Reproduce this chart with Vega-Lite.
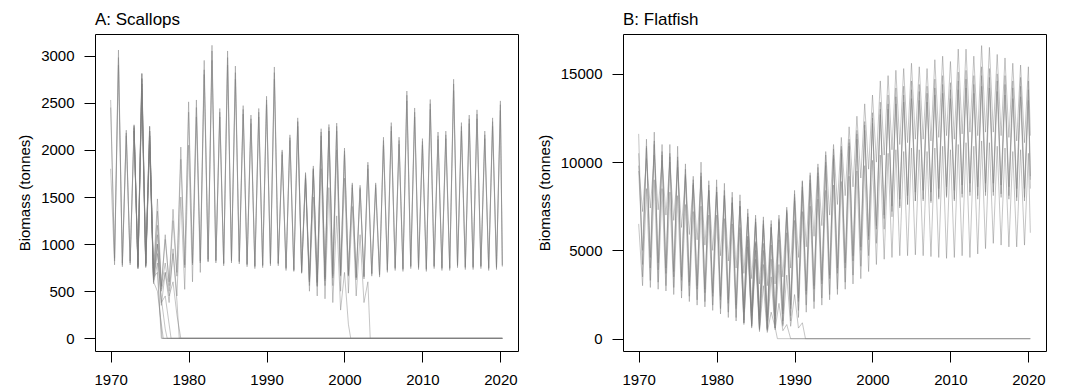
{
"$schema": "https://vega.github.io/schema/vega-lite/v6.json",
"padding": {"left": 17, "top": 10, "right": 5, "bottom": 5},
"background": "white",
"spacing": 105,
"bounds": "flush",
"config": {
 "font": "Liberation Sans",
 "view": {"stroke": "black", "strokeWidth": 1},
 "axis": {"domain": false, "grid": false, "tickColor": "black", "tickSize": 11, "tickWidth": 1, "labelFontSize": 15, "labelColor": "black", "labelPadding": 10, "titleFontSize": 15, "titleFontWeight": "normal", "titleColor": "black", "titlePadding": 8},
 "title": {"fontSize": 17, "fontWeight": "normal", "color": "black", "anchor": "start", "frame": "group", "baseline": "bottom", "offset": 5}
},
"datasets": {
"sc": [
{"r":"s1","t":1970,"v":2530},{"r":"s1","t":1970.5,"v":820},{"r":"s1","t":1971,"v":3060},{"r":"s1","t":1971.5,"v":780},{"r":"s1","t":1972,"v":2210},{"r":"s1","t":1972.5,"v":800},{"r":"s1","t":1973,"v":2260},{"r":"s1","t":1973.5,"v":760},{"r":"s1","t":1974,"v":2810},{"r":"s1","t":1974.5,"v":790},{"r":"s1","t":1975,"v":2250},{"r":"s1","t":1975.5,"v":680},{"r":"s1","t":1976,"v":1480},{"r":"s1","t":1976.5,"v":560},{"r":"s1","t":1977,"v":1050},{"r":"s1","t":1977.5,"v":600},{"r":"s1","t":1978,"v":1370},{"r":"s1","t":1978.5,"v":700},{"r":"s1","t":1979,"v":2030},{"r":"s1","t":1979.5,"v":780},{"r":"s1","t":1980,"v":2510},{"r":"s1","t":1980.5,"v":800},{"r":"s1","t":1981,"v":2530},{"r":"s1","t":1981.5,"v":820},{"r":"s1","t":1982,"v":2950},{"r":"s1","t":1982.5,"v":840},{"r":"s1","t":1983,"v":3110},{"r":"s1","t":1983.5,"v":830},{"r":"s1","t":1984,"v":2440},{"r":"s1","t":1984.5,"v":790},{"r":"s1","t":1985,"v":3050},{"r":"s1","t":1985.5,"v":830},{"r":"s1","t":1986,"v":2890},{"r":"s1","t":1986.5,"v":820},{"r":"s1","t":1987,"v":2470},{"r":"s1","t":1987.5,"v":780},{"r":"s1","t":1988,"v":2370},{"r":"s1","t":1988.5,"v":760},{"r":"s1","t":1989,"v":2440},{"r":"s1","t":1989.5,"v":770},{"r":"s1","t":1990,"v":2570},{"r":"s1","t":1990.5,"v":790},{"r":"s1","t":1991,"v":2880},{"r":"s1","t":1991.5,"v":800},{"r":"s1","t":1992,"v":2000},{"r":"s1","t":1992.5,"v":740},{"r":"s1","t":1993,"v":2160},{"r":"s1","t":1993.5,"v":730},{"r":"s1","t":1994,"v":2340},{"r":"s1","t":1994.5,"v":720},{"r":"s1","t":1995,"v":1760},{"r":"s1","t":1995.5,"v":620},{"r":"s1","t":1996,"v":1830},{"r":"s1","t":1996.5,"v":600},{"r":"s1","t":1997,"v":2225},{"r":"s1","t":1997.5,"v":650},{"r":"s1","t":1998,"v":2270},{"r":"s1","t":1998.5,"v":680},{"r":"s1","t":1999,"v":2285},{"r":"s1","t":1999.5,"v":690},{"r":"s1","t":2000,"v":2020},{"r":"s1","t":2000.5,"v":680},{"r":"s1","t":2001,"v":1650},{"r":"s1","t":2001.5,"v":640},{"r":"s1","t":2002,"v":1625},{"r":"s1","t":2002.5,"v":650},{"r":"s1","t":2003,"v":1870},{"r":"s1","t":2003.5,"v":680},{"r":"s1","t":2004,"v":1650},{"r":"s1","t":2004.5,"v":670},{"r":"s1","t":2005,"v":2135},{"r":"s1","t":2005.5,"v":720},{"r":"s1","t":2006,"v":2290},{"r":"s1","t":2006.5,"v":740},{"r":"s1","t":2007,"v":2135},{"r":"s1","t":2007.5,"v":730},{"r":"s1","t":2008,"v":2625},{"r":"s1","t":2008.5,"v":760},{"r":"s1","t":2009,"v":2445},{"r":"s1","t":2009.5,"v":750},{"r":"s1","t":2010,"v":2120},{"r":"s1","t":2010.5,"v":730},{"r":"s1","t":2011,"v":2535},{"r":"s1","t":2011.5,"v":760},{"r":"s1","t":2012,"v":2190},{"r":"s1","t":2012.5,"v":740},{"r":"s1","t":2013,"v":2200},{"r":"s1","t":2013.5,"v":740},{"r":"s1","t":2014,"v":2750},{"r":"s1","t":2014.5,"v":770},{"r":"s1","t":2015,"v":2290},{"r":"s1","t":2015.5,"v":750},{"r":"s1","t":2016,"v":2370},{"r":"s1","t":2016.5,"v":750},{"r":"s1","t":2017,"v":2425},{"r":"s1","t":2017.5,"v":760},{"r":"s1","t":2018,"v":2200},{"r":"s1","t":2018.5,"v":740},{"r":"s1","t":2019,"v":2340},{"r":"s1","t":2019.5,"v":750},{"r":"s1","t":2020,"v":2520},{"r":"s1","t":2020.25,"v":780},
{"r":"s2","t":1970,"v":1800},{"r":"s2","t":1970.5,"v":780},{"r":"s2","t":1971,"v":2900},{"r":"s2","t":1971.5,"v":760},{"r":"s2","t":1972,"v":2150},{"r":"s2","t":1972.5,"v":780},{"r":"s2","t":1973,"v":2200},{"r":"s2","t":1973.5,"v":740},{"r":"s2","t":1974,"v":2700},{"r":"s2","t":1974.5,"v":770},{"r":"s2","t":1975,"v":2150},{"r":"s2","t":1975.5,"v":640},{"r":"s2","t":1976,"v":1350},{"r":"s2","t":1976.5,"v":520},{"r":"s2","t":1977,"v":1100},{"r":"s2","t":1977.5,"v":560},{"r":"s2","t":1978,"v":1250},{"r":"s2","t":1978.5,"v":660},{"r":"s2","t":1979,"v":1900},{"r":"s2","t":1979.5,"v":750},{"r":"s2","t":1980,"v":2400},{"r":"s2","t":1980.5,"v":780},{"r":"s2","t":1981,"v":2450},{"r":"s2","t":1981.5,"v":800},{"r":"s2","t":1982,"v":2800},{"r":"s2","t":1982.5,"v":810},{"r":"s2","t":1983,"v":2950},{"r":"s2","t":1983.5,"v":800},{"r":"s2","t":1984,"v":2350},{"r":"s2","t":1984.5,"v":770},{"r":"s2","t":1985,"v":2900},{"r":"s2","t":1985.5,"v":800},{"r":"s2","t":1986,"v":2750},{"r":"s2","t":1986.5,"v":790},{"r":"s2","t":1987,"v":2380},{"r":"s2","t":1987.5,"v":760},{"r":"s2","t":1988,"v":2280},{"r":"s2","t":1988.5,"v":740},{"r":"s2","t":1989,"v":2350},{"r":"s2","t":1989.5,"v":750},{"r":"s2","t":1990,"v":2480},{"r":"s2","t":1990.5,"v":770},{"r":"s2","t":1991,"v":2750},{"r":"s2","t":1991.5,"v":770},{"r":"s2","t":1992,"v":1950},{"r":"s2","t":1992.5,"v":720},{"r":"s2","t":1993,"v":2100},{"r":"s2","t":1993.5,"v":710},{"r":"s2","t":1994,"v":2250},{"r":"s2","t":1994.5,"v":700},{"r":"s2","t":1995,"v":1700},{"r":"s2","t":1995.5,"v":600},{"r":"s2","t":1996,"v":1780},{"r":"s2","t":1996.5,"v":590},{"r":"s2","t":1997,"v":2150},{"r":"s2","t":1997.5,"v":630},{"r":"s2","t":1998,"v":2200},{"r":"s2","t":1998.5,"v":660},{"r":"s2","t":1999,"v":2200},{"r":"s2","t":1999.5,"v":670},{"r":"s2","t":2000,"v":1950},{"r":"s2","t":2000.5,"v":660},{"r":"s2","t":2001,"v":1600},{"r":"s2","t":2001.5,"v":620},{"r":"s2","t":2002,"v":1580},{"r":"s2","t":2002.5,"v":630},{"r":"s2","t":2003,"v":1800},{"r":"s2","t":2003.5,"v":660},{"r":"s2","t":2004,"v":1600},{"r":"s2","t":2004.5,"v":650},{"r":"s2","t":2005,"v":2050},{"r":"s2","t":2005.5,"v":700},{"r":"s2","t":2006,"v":2200},{"r":"s2","t":2006.5,"v":720},{"r":"s2","t":2007,"v":2060},{"r":"s2","t":2007.5,"v":710},{"r":"s2","t":2008,"v":2520},{"r":"s2","t":2008.5,"v":740},{"r":"s2","t":2009,"v":2350},{"r":"s2","t":2009.5,"v":730},{"r":"s2","t":2010,"v":2050},{"r":"s2","t":2010.5,"v":710},{"r":"s2","t":2011,"v":2430},{"r":"s2","t":2011.5,"v":740},{"r":"s2","t":2012,"v":2110},{"r":"s2","t":2012.5,"v":720},{"r":"s2","t":2013,"v":2120},{"r":"s2","t":2013.5,"v":720},{"r":"s2","t":2014,"v":2630},{"r":"s2","t":2014.5,"v":750},{"r":"s2","t":2015,"v":2200},{"r":"s2","t":2015.5,"v":730},{"r":"s2","t":2016,"v":2280},{"r":"s2","t":2016.5,"v":730},{"r":"s2","t":2017,"v":2330},{"r":"s2","t":2017.5,"v":740},{"r":"s2","t":2018,"v":2120},{"r":"s2","t":2018.5,"v":720},{"r":"s2","t":2019,"v":2250},{"r":"s2","t":2019.5,"v":730},{"r":"s2","t":2020,"v":2420},{"r":"s2","t":2020.25,"v":760},
{"r":"s3","t":1970,"v":2450},{"r":"s3","t":1970.5,"v":850},{"r":"s3","t":1971,"v":2980},{"r":"s3","t":1971.5,"v":800},{"r":"s3","t":1972,"v":2180},{"r":"s3","t":1972.5,"v":820},{"r":"s3","t":1973,"v":2230},{"r":"s3","t":1973.5,"v":780},{"r":"s3","t":1974,"v":2760},{"r":"s3","t":1974.5,"v":800},{"r":"s3","t":1975,"v":2200},{"r":"s3","t":1975.5,"v":600},{"r":"s3","t":1976,"v":1000},{"r":"s3","t":1976.5,"v":350},{"r":"s3","t":1977,"v":700},{"r":"s3","t":1977.5,"v":380},{"r":"s3","t":1978,"v":950},{"r":"s3","t":1978.5,"v":450},{"r":"s3","t":1979,"v":1500},{"r":"s3","t":1979.5,"v":520},{"r":"s3","t":1980,"v":2050},{"r":"s3","t":1980.5,"v":600},{"r":"s3","t":1981,"v":2350},{"r":"s3","t":1981.5,"v":700},{"r":"s3","t":1982,"v":2850},{"r":"s3","t":1982.5,"v":820},{"r":"s3","t":1983,"v":3050},{"r":"s3","t":1983.5,"v":820},{"r":"s3","t":1984,"v":2400},{"r":"s3","t":1984.5,"v":800},{"r":"s3","t":1985,"v":2980},{"r":"s3","t":1985.5,"v":820},{"r":"s3","t":1986,"v":2820},{"r":"s3","t":1986.5,"v":810},{"r":"s3","t":1987,"v":2430},{"r":"s3","t":1987.5,"v":790},{"r":"s3","t":1988,"v":2330},{"r":"s3","t":1988.5,"v":770},{"r":"s3","t":1989,"v":2400},{"r":"s3","t":1989.5,"v":780},{"r":"s3","t":1990,"v":2530},{"r":"s3","t":1990.5,"v":800},{"r":"s3","t":1991,"v":2820},{"r":"s3","t":1991.5,"v":790},{"r":"s3","t":1992,"v":1980},{"r":"s3","t":1992.5,"v":750},{"r":"s3","t":1993,"v":2130},{"r":"s3","t":1993.5,"v":720},{"r":"s3","t":1994,"v":2300},{"r":"s3","t":1994.5,"v":690},{"r":"s3","t":1995,"v":1730},{"r":"s3","t":1995.5,"v":560},{"r":"s3","t":1996,"v":1800},{"r":"s3","t":1996.5,"v":560},{"r":"s3","t":1997,"v":2190},{"r":"s3","t":1997.5,"v":610},{"r":"s3","t":1998,"v":2240},{"r":"s3","t":1998.5,"v":640},{"r":"s3","t":1999,"v":2250},{"r":"s3","t":1999.5,"v":660},{"r":"s3","t":2000,"v":1990},{"r":"s3","t":2000.5,"v":670},{"r":"s3","t":2001,"v":1630},{"r":"s3","t":2001.5,"v":650},{"r":"s3","t":2002,"v":1600},{"r":"s3","t":2002.5,"v":660},{"r":"s3","t":2003,"v":1840},{"r":"s3","t":2003.5,"v":690},{"r":"s3","t":2004,"v":1630},{"r":"s3","t":2004.5,"v":680},{"r":"s3","t":2005,"v":2100},{"r":"s3","t":2005.5,"v":730},{"r":"s3","t":2006,"v":2250},{"r":"s3","t":2006.5,"v":750},{"r":"s3","t":2007,"v":2100},{"r":"s3","t":2007.5,"v":740},{"r":"s3","t":2008,"v":2580},{"r":"s3","t":2008.5,"v":770},{"r":"s3","t":2009,"v":2400},{"r":"s3","t":2009.5,"v":760},{"r":"s3","t":2010,"v":2090},{"r":"s3","t":2010.5,"v":740},{"r":"s3","t":2011,"v":2490},{"r":"s3","t":2011.5,"v":770},{"r":"s3","t":2012,"v":2150},{"r":"s3","t":2012.5,"v":750},{"r":"s3","t":2013,"v":2160},{"r":"s3","t":2013.5,"v":750},{"r":"s3","t":2014,"v":2700},{"r":"s3","t":2014.5,"v":780},{"r":"s3","t":2015,"v":2250},{"r":"s3","t":2015.5,"v":760},{"r":"s3","t":2016,"v":2330},{"r":"s3","t":2016.5,"v":760},{"r":"s3","t":2017,"v":2380},{"r":"s3","t":2017.5,"v":770},{"r":"s3","t":2018,"v":2160},{"r":"s3","t":2018.5,"v":750},{"r":"s3","t":2019,"v":2300},{"r":"s3","t":2019.5,"v":760},{"r":"s3","t":2020,"v":2480},{"r":"s3","t":2020.25,"v":770},
{"r":"c1","t":1973,"v":2250},{"r":"c1","t":1973.5,"v":760},{"r":"c1","t":1974,"v":2700},{"r":"c1","t":1974.5,"v":780},{"r":"c1","t":1975,"v":2150},{"r":"c1","t":1975.5,"v":650},{"r":"c1","t":1976,"v":700},{"r":"c1","t":1976.5,"v":0},{"r":"c1","t":2020.25,"v":0},
{"r":"c2","t":1973,"v":2260},{"r":"c2","t":1973.5,"v":770},{"r":"c2","t":1974,"v":2810},{"r":"c2","t":1974.5,"v":800},{"r":"c2","t":1975,"v":2250},{"r":"c2","t":1975.5,"v":600},{"r":"c2","t":1976,"v":500},{"r":"c2","t":1976.4,"v":220},{"r":"c2","t":1976.75,"v":0},{"r":"c2","t":2020.25,"v":0},
{"r":"c3","t":1973,"v":2240},{"r":"c3","t":1973.5,"v":750},{"r":"c3","t":1974,"v":2600},{"r":"c3","t":1974.5,"v":760},{"r":"c3","t":1975,"v":2050},{"r":"c3","t":1975.5,"v":620},{"r":"c3","t":1976,"v":900},{"r":"c3","t":1976.5,"v":420},{"r":"c3","t":1977,"v":100},{"r":"c3","t":1977.25,"v":0},{"r":"c3","t":2020.25,"v":0},
{"r":"c4","t":1973,"v":2270},{"r":"c4","t":1973.5,"v":780},{"r":"c4","t":1974,"v":2750},{"r":"c4","t":1974.5,"v":770},{"r":"c4","t":1975,"v":2200},{"r":"c4","t":1975.5,"v":640},{"r":"c4","t":1976,"v":1000},{"r":"c4","t":1976.5,"v":380},{"r":"c4","t":1977,"v":450},{"r":"c4","t":1977.5,"v":150},{"r":"c4","t":1977.75,"v":0},{"r":"c4","t":2020.25,"v":0},
{"r":"c5","t":1973,"v":2200},{"r":"c5","t":1973.5,"v":740},{"r":"c5","t":1974,"v":2650},{"r":"c5","t":1974.5,"v":750},{"r":"c5","t":1975,"v":2100},{"r":"c5","t":1975.5,"v":580},{"r":"c5","t":1976,"v":800},{"r":"c5","t":1976.3,"v":300},{"r":"c5","t":1976.6,"v":0},{"r":"c5","t":2020.25,"v":0},
{"r":"c6","t":1975,"v":2150},{"r":"c6","t":1975.5,"v":620},{"r":"c6","t":1976,"v":1100},{"r":"c6","t":1976.5,"v":500},{"r":"c6","t":1977,"v":700},{"r":"c6","t":1977.5,"v":450},{"r":"c6","t":1978,"v":600},{"r":"c6","t":1978.5,"v":250},{"r":"c6","t":1979,"v":0},{"r":"c6","t":2020.25,"v":0},
{"r":"c7","t":1975,"v":2200},{"r":"c7","t":1975.5,"v":650},{"r":"c7","t":1976,"v":1200},{"r":"c7","t":1976.5,"v":550},{"r":"c7","t":1977,"v":800},{"r":"c7","t":1977.5,"v":500},{"r":"c7","t":1978,"v":900},{"r":"c7","t":1978.5,"v":400},{"r":"c7","t":1978.8,"v":0},{"r":"c7","t":2020.25,"v":0},
{"r":"d1","t":1994,"v":2300},{"r":"d1","t":1994.5,"v":700},{"r":"d1","t":1995,"v":1700},{"r":"d1","t":1995.5,"v":500},{"r":"d1","t":1996,"v":1500},{"r":"d1","t":1996.5,"v":450},{"r":"d1","t":1997,"v":1800},{"r":"d1","t":1997.5,"v":420},{"r":"d1","t":1998,"v":1600},{"r":"d1","t":1998.5,"v":380},{"r":"d1","t":1999,"v":1300},{"r":"d1","t":1999.5,"v":300},{"r":"d1","t":2000,"v":700},{"r":"d1","t":2000.5,"v":150},{"r":"d1","t":2000.8,"v":0},{"r":"d1","t":2020.25,"v":0},
{"r":"d2","t":1995,"v":1750},{"r":"d2","t":1995.5,"v":600},{"r":"d2","t":1996,"v":1800},{"r":"d2","t":1996.5,"v":550},{"r":"d2","t":1997,"v":2100},{"r":"d2","t":1997.5,"v":560},{"r":"d2","t":1998,"v":2200},{"r":"d2","t":1998.5,"v":560},{"r":"d2","t":1999,"v":2000},{"r":"d2","t":1999.5,"v":500},{"r":"d2","t":2000,"v":1700},{"r":"d2","t":2000.5,"v":480},{"r":"d2","t":2001,"v":1400},{"r":"d2","t":2001.5,"v":450},{"r":"d2","t":2002,"v":1100},{"r":"d2","t":2002.5,"v":380},{"r":"d2","t":2003,"v":600},{"r":"d2","t":2003.3,"v":0},{"r":"d2","t":2020.25,"v":0}
],
"ff": [
{"r":"f1","t":1970,"v":11600},{"r":"f1","t":1970.5,"v":3500},{"r":"f1","t":1971,"v":11300},{"r":"f1","t":1971.5,"v":3300},{"r":"f1","t":1972,"v":11700},{"r":"f1","t":1972.5,"v":3200},{"r":"f1","t":1973,"v":11000},{"r":"f1","t":1973.5,"v":3000},{"r":"f1","t":1974,"v":11000},{"r":"f1","t":1974.5,"v":2900},{"r":"f1","t":1975,"v":10900},{"r":"f1","t":1975.5,"v":2700},{"r":"f1","t":1976,"v":9900},{"r":"f1","t":1976.5,"v":2400},{"r":"f1","t":1977,"v":9200},{"r":"f1","t":1977.5,"v":2200},{"r":"f1","t":1978,"v":10000},{"r":"f1","t":1978.5,"v":2100},{"r":"f1","t":1979,"v":8950},{"r":"f1","t":1979.5,"v":1900},{"r":"f1","t":1980,"v":9000},{"r":"f1","t":1980.5,"v":1700},{"r":"f1","t":1981,"v":8800},{"r":"f1","t":1981.5,"v":1500},{"r":"f1","t":1982,"v":8300},{"r":"f1","t":1982.5,"v":1200},{"r":"f1","t":1983,"v":8150},{"r":"f1","t":1983.5,"v":1050},{"r":"f1","t":1984,"v":7350},{"r":"f1","t":1984.5,"v":850},{"r":"f1","t":1985,"v":7000},{"r":"f1","t":1985.5,"v":650},{"r":"f1","t":1986,"v":6900},{"r":"f1","t":1986.5,"v":600},{"r":"f1","t":1987,"v":6700},{"r":"f1","t":1987.5,"v":800},{"r":"f1","t":1988,"v":7000},{"r":"f1","t":1988.5,"v":1000},{"r":"f1","t":1989,"v":7450},{"r":"f1","t":1989.5,"v":1300},{"r":"f1","t":1990,"v":8400},{"r":"f1","t":1990.5,"v":1600},{"r":"f1","t":1991,"v":8950},{"r":"f1","t":1991.5,"v":1900},{"r":"f1","t":1992,"v":9250},{"r":"f1","t":1992.5,"v":2100},{"r":"f1","t":1993,"v":9700},{"r":"f1","t":1993.5,"v":2300},{"r":"f1","t":1994,"v":10400},{"r":"f1","t":1994.5,"v":2500},{"r":"f1","t":1995,"v":10750},{"r":"f1","t":1995.5,"v":2800},{"r":"f1","t":1996,"v":10900},{"r":"f1","t":1996.5,"v":3200},{"r":"f1","t":1997,"v":11300},{"r":"f1","t":1997.5,"v":3600},{"r":"f1","t":1998,"v":11800},{"r":"f1","t":1998.5,"v":4100},{"r":"f1","t":1999,"v":12300},{"r":"f1","t":1999.5,"v":4700},{"r":"f1","t":2000,"v":12800},{"r":"f1","t":2000.5,"v":5400},{"r":"f1","t":2001,"v":13400},{"r":"f1","t":2001.5,"v":6200},{"r":"f1","t":2002,"v":13800},{"r":"f1","t":2002.5,"v":6900},{"r":"f1","t":2003,"v":14200},{"r":"f1","t":2003.5,"v":7400},{"r":"f1","t":2004,"v":14300},{"r":"f1","t":2004.5,"v":7600},{"r":"f1","t":2005,"v":14600},{"r":"f1","t":2005.5,"v":7800},{"r":"f1","t":2006,"v":14400},{"r":"f1","t":2006.5,"v":7900},{"r":"f1","t":2007,"v":14300},{"r":"f1","t":2007.5,"v":7800},{"r":"f1","t":2008,"v":14700},{"r":"f1","t":2008.5,"v":8000},{"r":"f1","t":2009,"v":14900},{"r":"f1","t":2009.5,"v":8100},{"r":"f1","t":2010,"v":14500},{"r":"f1","t":2010.5,"v":7900},{"r":"f1","t":2011,"v":15100},{"r":"f1","t":2011.5,"v":8200},{"r":"f1","t":2012,"v":15200},{"r":"f1","t":2012.5,"v":8300},{"r":"f1","t":2013,"v":14900},{"r":"f1","t":2013.5,"v":8100},{"r":"f1","t":2014,"v":15400},{"r":"f1","t":2014.5,"v":8300},{"r":"f1","t":2015,"v":15300},{"r":"f1","t":2015.5,"v":8300},{"r":"f1","t":2016,"v":15000},{"r":"f1","t":2016.5,"v":8200},{"r":"f1","t":2017,"v":14900},{"r":"f1","t":2017.5,"v":8100},{"r":"f1","t":2018,"v":14600},{"r":"f1","t":2018.5,"v":8000},{"r":"f1","t":2019,"v":14800},{"r":"f1","t":2019.5,"v":8000},{"r":"f1","t":2020,"v":14600},{"r":"f1","t":2020.25,"v":9000},
{"r":"f2","t":1970,"v":9500},{"r":"f2","t":1970.5,"v":5000},{"r":"f2","t":1971,"v":10800},{"r":"f2","t":1971.5,"v":4600},{"r":"f2","t":1972,"v":11200},{"r":"f2","t":1972.5,"v":4300},{"r":"f2","t":1973,"v":10600},{"r":"f2","t":1973.5,"v":4000},{"r":"f2","t":1974,"v":10500},{"r":"f2","t":1974.5,"v":3800},{"r":"f2","t":1975,"v":10300},{"r":"f2","t":1975.5,"v":3500},{"r":"f2","t":1976,"v":9600},{"r":"f2","t":1976.5,"v":3200},{"r":"f2","t":1977,"v":9000},{"r":"f2","t":1977.5,"v":3000},{"r":"f2","t":1978,"v":9400},{"r":"f2","t":1978.5,"v":2800},{"r":"f2","t":1979,"v":8700},{"r":"f2","t":1979.5,"v":2600},{"r":"f2","t":1980,"v":8600},{"r":"f2","t":1980.5,"v":2400},{"r":"f2","t":1981,"v":8400},{"r":"f2","t":1981.5,"v":2200},{"r":"f2","t":1982,"v":8000},{"r":"f2","t":1982.5,"v":1900},{"r":"f2","t":1983,"v":7800},{"r":"f2","t":1983.5,"v":1700},{"r":"f2","t":1984,"v":7100},{"r":"f2","t":1984.5,"v":1500},{"r":"f2","t":1985,"v":6800},{"r":"f2","t":1985.5,"v":1300},{"r":"f2","t":1986,"v":6700},{"r":"f2","t":1986.5,"v":1200},{"r":"f2","t":1987,"v":6500},{"r":"f2","t":1987.5,"v":1300},{"r":"f2","t":1988,"v":6800},{"r":"f2","t":1988.5,"v":1600},{"r":"f2","t":1989,"v":7200},{"r":"f2","t":1989.5,"v":1900},{"r":"f2","t":1990,"v":8000},{"r":"f2","t":1990.5,"v":2300},{"r":"f2","t":1991,"v":8600},{"r":"f2","t":1991.5,"v":2700},{"r":"f2","t":1992,"v":9000},{"r":"f2","t":1992.5,"v":3000},{"r":"f2","t":1993,"v":9400},{"r":"f2","t":1993.5,"v":3300},{"r":"f2","t":1994,"v":10000},{"r":"f2","t":1994.5,"v":3600},{"r":"f2","t":1995,"v":10400},{"r":"f2","t":1995.5,"v":4000},{"r":"f2","t":1996,"v":10700},{"r":"f2","t":1996.5,"v":4300},{"r":"f2","t":1997,"v":11100},{"r":"f2","t":1997.5,"v":4700},{"r":"f2","t":1998,"v":11600},{"r":"f2","t":1998.5,"v":5200},{"r":"f2","t":1999,"v":12100},{"r":"f2","t":1999.5,"v":5800},{"r":"f2","t":2000,"v":12500},{"r":"f2","t":2000.5,"v":6400},{"r":"f2","t":2001,"v":13000},{"r":"f2","t":2001.5,"v":7000},{"r":"f2","t":2002,"v":13300},{"r":"f2","t":2002.5,"v":7500},{"r":"f2","t":2003,"v":13700},{"r":"f2","t":2003.5,"v":7900},{"r":"f2","t":2004,"v":13800},{"r":"f2","t":2004.5,"v":8100},{"r":"f2","t":2005,"v":14100},{"r":"f2","t":2005.5,"v":8300},{"r":"f2","t":2006,"v":14000},{"r":"f2","t":2006.5,"v":8400},{"r":"f2","t":2007,"v":13900},{"r":"f2","t":2007.5,"v":8300},{"r":"f2","t":2008,"v":14200},{"r":"f2","t":2008.5,"v":8500},{"r":"f2","t":2009,"v":14400},{"r":"f2","t":2009.5,"v":8600},{"r":"f2","t":2010,"v":14100},{"r":"f2","t":2010.5,"v":8400},{"r":"f2","t":2011,"v":14600},{"r":"f2","t":2011.5,"v":8700},{"r":"f2","t":2012,"v":14700},{"r":"f2","t":2012.5,"v":8800},{"r":"f2","t":2013,"v":14400},{"r":"f2","t":2013.5,"v":8600},{"r":"f2","t":2014,"v":14900},{"r":"f2","t":2014.5,"v":8800},{"r":"f2","t":2015,"v":14800},{"r":"f2","t":2015.5,"v":8800},{"r":"f2","t":2016,"v":14600},{"r":"f2","t":2016.5,"v":8700},{"r":"f2","t":2017,"v":14400},{"r":"f2","t":2017.5,"v":8600},{"r":"f2","t":2018,"v":14200},{"r":"f2","t":2018.5,"v":8500},{"r":"f2","t":2019,"v":14300},{"r":"f2","t":2019.5,"v":8500},{"r":"f2","t":2020,"v":14100},{"r":"f2","t":2020.25,"v":9200},
{"r":"f3","t":1970,"v":9800},{"r":"f3","t":1970.5,"v":7200},{"r":"f3","t":1971,"v":10200},{"r":"f3","t":1971.5,"v":7400},{"r":"f3","t":1972,"v":10400},{"r":"f3","t":1972.5,"v":7300},{"r":"f3","t":1973,"v":10100},{"r":"f3","t":1973.5,"v":7000},{"r":"f3","t":1974,"v":10000},{"r":"f3","t":1974.5,"v":6700},{"r":"f3","t":1975,"v":9700},{"r":"f3","t":1975.5,"v":6300},{"r":"f3","t":1976,"v":9200},{"r":"f3","t":1976.5,"v":5900},{"r":"f3","t":1977,"v":8800},{"r":"f3","t":1977.5,"v":5600},{"r":"f3","t":1978,"v":9000},{"r":"f3","t":1978.5,"v":5300},{"r":"f3","t":1979,"v":8400},{"r":"f3","t":1979.5,"v":5000},{"r":"f3","t":1980,"v":8300},{"r":"f3","t":1980.5,"v":4700},{"r":"f3","t":1981,"v":8100},{"r":"f3","t":1981.5,"v":4400},{"r":"f3","t":1982,"v":7700},{"r":"f3","t":1982.5,"v":4000},{"r":"f3","t":1983,"v":7500},{"r":"f3","t":1983.5,"v":3700},{"r":"f3","t":1984,"v":6900},{"r":"f3","t":1984.5,"v":3400},{"r":"f3","t":1985,"v":6600},{"r":"f3","t":1985.5,"v":3100},{"r":"f3","t":1986,"v":6400},{"r":"f3","t":1986.5,"v":3000},{"r":"f3","t":1987,"v":6300},{"r":"f3","t":1987.5,"v":3100},{"r":"f3","t":1988,"v":6700},{"r":"f3","t":1988.5,"v":3500},{"r":"f3","t":1989,"v":7300},{"r":"f3","t":1989.5,"v":4000},{"r":"f3","t":1990,"v":8200},{"r":"f3","t":1990.5,"v":4600},{"r":"f3","t":1991,"v":8900},{"r":"f3","t":1991.5,"v":5200},{"r":"f3","t":1992,"v":9400},{"r":"f3","t":1992.5,"v":5800},{"r":"f3","t":1993,"v":9900},{"r":"f3","t":1993.5,"v":6400},{"r":"f3","t":1994,"v":10600},{"r":"f3","t":1994.5,"v":7000},{"r":"f3","t":1995,"v":11000},{"r":"f3","t":1995.5,"v":7600},{"r":"f3","t":1996,"v":11400},{"r":"f3","t":1996.5,"v":8100},{"r":"f3","t":1997,"v":12000},{"r":"f3","t":1997.5,"v":8600},{"r":"f3","t":1998,"v":12600},{"r":"f3","t":1998.5,"v":9100},{"r":"f3","t":1999,"v":13300},{"r":"f3","t":1999.5,"v":9600},{"r":"f3","t":2000,"v":13800},{"r":"f3","t":2000.5,"v":10000},{"r":"f3","t":2001,"v":14600},{"r":"f3","t":2001.5,"v":10400},{"r":"f3","t":2002,"v":14900},{"r":"f3","t":2002.5,"v":10700},{"r":"f3","t":2003,"v":15200},{"r":"f3","t":2003.5,"v":11000},{"r":"f3","t":2004,"v":15300},{"r":"f3","t":2004.5,"v":11100},{"r":"f3","t":2005,"v":15600},{"r":"f3","t":2005.5,"v":11300},{"r":"f3","t":2006,"v":15400},{"r":"f3","t":2006.5,"v":11300},{"r":"f3","t":2007,"v":15300},{"r":"f3","t":2007.5,"v":11200},{"r":"f3","t":2008,"v":15800},{"r":"f3","t":2008.5,"v":11400},{"r":"f3","t":2009,"v":16000},{"r":"f3","t":2009.5,"v":11500},{"r":"f3","t":2010,"v":15700},{"r":"f3","t":2010.5,"v":11300},{"r":"f3","t":2011,"v":16400},{"r":"f3","t":2011.5,"v":11600},{"r":"f3","t":2012,"v":16400},{"r":"f3","t":2012.5,"v":11700},{"r":"f3","t":2013,"v":16000},{"r":"f3","t":2013.5,"v":11500},{"r":"f3","t":2014,"v":16600},{"r":"f3","t":2014.5,"v":11700},{"r":"f3","t":2015,"v":16500},{"r":"f3","t":2015.5,"v":11700},{"r":"f3","t":2016,"v":16100},{"r":"f3","t":2016.5,"v":11500},{"r":"f3","t":2017,"v":15900},{"r":"f3","t":2017.5,"v":11400},{"r":"f3","t":2018,"v":15600},{"r":"f3","t":2018.5,"v":11200},{"r":"f3","t":2019,"v":15500},{"r":"f3","t":2019.5,"v":11100},{"r":"f3","t":2020,"v":15400},{"r":"f3","t":2020.25,"v":11500},
{"r":"f4","t":1970,"v":6500},{"r":"f4","t":1970.5,"v":3000},{"r":"f4","t":1971,"v":8500},{"r":"f4","t":1971.5,"v":2900},{"r":"f4","t":1972,"v":9000},{"r":"f4","t":1972.5,"v":2800},{"r":"f4","t":1973,"v":8500},{"r":"f4","t":1973.5,"v":2700},{"r":"f4","t":1974,"v":8300},{"r":"f4","t":1974.5,"v":2500},{"r":"f4","t":1975,"v":8100},{"r":"f4","t":1975.5,"v":2300},{"r":"f4","t":1976,"v":7600},{"r":"f4","t":1976.5,"v":2100},{"r":"f4","t":1977,"v":7200},{"r":"f4","t":1977.5,"v":1900},{"r":"f4","t":1978,"v":7500},{"r":"f4","t":1978.5,"v":1800},{"r":"f4","t":1979,"v":7000},{"r":"f4","t":1979.5,"v":1600},{"r":"f4","t":1980,"v":7000},{"r":"f4","t":1980.5,"v":1400},{"r":"f4","t":1981,"v":6800},{"r":"f4","t":1981.5,"v":1200},{"r":"f4","t":1982,"v":6500},{"r":"f4","t":1982.5,"v":1000},{"r":"f4","t":1983,"v":6300},{"r":"f4","t":1983.5,"v":900},{"r":"f4","t":1984,"v":5800},{"r":"f4","t":1984.5,"v":700},{"r":"f4","t":1985,"v":5500},{"r":"f4","t":1985.5,"v":550},{"r":"f4","t":1986,"v":5400},{"r":"f4","t":1986.5,"v":500},{"r":"f4","t":1987,"v":5300},{"r":"f4","t":1987.5,"v":600},{"r":"f4","t":1988,"v":5600},{"r":"f4","t":1988.5,"v":800},{"r":"f4","t":1989,"v":6000},{"r":"f4","t":1989.5,"v":1000},{"r":"f4","t":1990,"v":6700},{"r":"f4","t":1990.5,"v":1200},{"r":"f4","t":1991,"v":7200},{"r":"f4","t":1991.5,"v":1500},{"r":"f4","t":1992,"v":7500},{"r":"f4","t":1992.5,"v":1700},{"r":"f4","t":1993,"v":7900},{"r":"f4","t":1993.5,"v":1900},{"r":"f4","t":1994,"v":8400},{"r":"f4","t":1994.5,"v":2200},{"r":"f4","t":1995,"v":8700},{"r":"f4","t":1995.5,"v":2500},{"r":"f4","t":1996,"v":8900},{"r":"f4","t":1996.5,"v":2800},{"r":"f4","t":1997,"v":9200},{"r":"f4","t":1997.5,"v":3100},{"r":"f4","t":1998,"v":9500},{"r":"f4","t":1998.5,"v":3400},{"r":"f4","t":1999,"v":9800},{"r":"f4","t":1999.5,"v":3800},{"r":"f4","t":2000,"v":10100},{"r":"f4","t":2000.5,"v":4200},{"r":"f4","t":2001,"v":10400},{"r":"f4","t":2001.5,"v":4500},{"r":"f4","t":2002,"v":10500},{"r":"f4","t":2002.5,"v":4600},{"r":"f4","t":2003,"v":10700},{"r":"f4","t":2003.5,"v":4700},{"r":"f4","t":2004,"v":10600},{"r":"f4","t":2004.5,"v":4700},{"r":"f4","t":2005,"v":10800},{"r":"f4","t":2005.5,"v":4750},{"r":"f4","t":2006,"v":10700},{"r":"f4","t":2006.5,"v":4700},{"r":"f4","t":2007,"v":10600},{"r":"f4","t":2007.5,"v":4650},{"r":"f4","t":2008,"v":10800},{"r":"f4","t":2008.5,"v":4600},{"r":"f4","t":2009,"v":10900},{"r":"f4","t":2009.5,"v":4550},{"r":"f4","t":2010,"v":10700},{"r":"f4","t":2010.5,"v":4600},{"r":"f4","t":2011,"v":11000},{"r":"f4","t":2011.5,"v":4700},{"r":"f4","t":2012,"v":11100},{"r":"f4","t":2012.5,"v":4600},{"r":"f4","t":2013,"v":10900},{"r":"f4","t":2013.5,"v":4800},{"r":"f4","t":2014,"v":11200},{"r":"f4","t":2014.5,"v":5100},{"r":"f4","t":2015,"v":11100},{"r":"f4","t":2015.5,"v":5400},{"r":"f4","t":2016,"v":10900},{"r":"f4","t":2016.5,"v":5300},{"r":"f4","t":2017,"v":10800},{"r":"f4","t":2017.5,"v":5200},{"r":"f4","t":2018,"v":10600},{"r":"f4","t":2018.5,"v":5200},{"r":"f4","t":2019,"v":10700},{"r":"f4","t":2019.5,"v":5300},{"r":"f4","t":2020,"v":10500},{"r":"f4","t":2020.25,"v":6000},
{"r":"f5","t":1970,"v":10500},{"r":"f5","t":1970.5,"v":4200},{"r":"f5","t":1971,"v":10900},{"r":"f5","t":1971.5,"v":4000},{"r":"f5","t":1972,"v":11000},{"r":"f5","t":1972.5,"v":3900},{"r":"f5","t":1973,"v":10400},{"r":"f5","t":1973.5,"v":3700},{"r":"f5","t":1974,"v":10300},{"r":"f5","t":1974.5,"v":3500},{"r":"f5","t":1975,"v":10100},{"r":"f5","t":1975.5,"v":3300},{"r":"f5","t":1976,"v":9300},{"r":"f5","t":1976.5,"v":3000},{"r":"f5","t":1977,"v":8700},{"r":"f5","t":1977.5,"v":2800},{"r":"f5","t":1978,"v":9200},{"r":"f5","t":1978.5,"v":2600},{"r":"f5","t":1979,"v":8400},{"r":"f5","t":1979.5,"v":2400},{"r":"f5","t":1980,"v":8300},{"r":"f5","t":1980.5,"v":2200},{"r":"f5","t":1981,"v":8100},{"r":"f5","t":1981.5,"v":2000},{"r":"f5","t":1982,"v":7700},{"r":"f5","t":1982.5,"v":1700},{"r":"f5","t":1983,"v":7500},{"r":"f5","t":1983.5,"v":1500},{"r":"f5","t":1984,"v":6900},{"r":"f5","t":1984.5,"v":1300},{"r":"f5","t":1985,"v":6600},{"r":"f5","t":1985.5,"v":1100},{"r":"f5","t":1986,"v":6500},{"r":"f5","t":1986.5,"v":1000},{"r":"f5","t":1987,"v":6300},{"r":"f5","t":1987.5,"v":1100},{"r":"f5","t":1988,"v":6600},{"r":"f5","t":1988.5,"v":1400},{"r":"f5","t":1989,"v":7100},{"r":"f5","t":1989.5,"v":1700},{"r":"f5","t":1990,"v":7800},{"r":"f5","t":1990.5,"v":2100},{"r":"f5","t":1991,"v":8400},{"r":"f5","t":1991.5,"v":2500},{"r":"f5","t":1992,"v":8800},{"r":"f5","t":1992.5,"v":2800},{"r":"f5","t":1993,"v":9200},{"r":"f5","t":1993.5,"v":3100},{"r":"f5","t":1994,"v":9800},{"r":"f5","t":1994.5,"v":3400},{"r":"f5","t":1995,"v":10200},{"r":"f5","t":1995.5,"v":3700},{"r":"f5","t":1996,"v":10500},{"r":"f5","t":1996.5,"v":4000},{"r":"f5","t":1997,"v":10900},{"r":"f5","t":1997.5,"v":4400},{"r":"f5","t":1998,"v":11300},{"r":"f5","t":1998.5,"v":5000},{"r":"f5","t":1999,"v":11800},{"r":"f5","t":1999.5,"v":5600},{"r":"f5","t":2000,"v":12200},{"r":"f5","t":2000.5,"v":6200},{"r":"f5","t":2001,"v":12700},{"r":"f5","t":2001.5,"v":6800},{"r":"f5","t":2002,"v":13000},{"r":"f5","t":2002.5,"v":7200},{"r":"f5","t":2003,"v":13300},{"r":"f5","t":2003.5,"v":7500},{"r":"f5","t":2004,"v":13400},{"r":"f5","t":2004.5,"v":7600},{"r":"f5","t":2005,"v":13600},{"r":"f5","t":2005.5,"v":7800},{"r":"f5","t":2006,"v":13500},{"r":"f5","t":2006.5,"v":7800},{"r":"f5","t":2007,"v":13400},{"r":"f5","t":2007.5,"v":7700},{"r":"f5","t":2008,"v":13800},{"r":"f5","t":2008.5,"v":7900},{"r":"f5","t":2009,"v":13900},{"r":"f5","t":2009.5,"v":8000},{"r":"f5","t":2010,"v":13600},{"r":"f5","t":2010.5,"v":7800},{"r":"f5","t":2011,"v":14100},{"r":"f5","t":2011.5,"v":8000},{"r":"f5","t":2012,"v":14200},{"r":"f5","t":2012.5,"v":8100},{"r":"f5","t":2013,"v":13900},{"r":"f5","t":2013.5,"v":7900},{"r":"f5","t":2014,"v":14300},{"r":"f5","t":2014.5,"v":8100},{"r":"f5","t":2015,"v":14200},{"r":"f5","t":2015.5,"v":8100},{"r":"f5","t":2016,"v":14000},{"r":"f5","t":2016.5,"v":8000},{"r":"f5","t":2017,"v":13800},{"r":"f5","t":2017.5,"v":7900},{"r":"f5","t":2018,"v":13600},{"r":"f5","t":2018.5,"v":7800},{"r":"f5","t":2019,"v":13700},{"r":"f5","t":2019.5,"v":7800},{"r":"f5","t":2020,"v":13500},{"r":"f5","t":2020.25,"v":8500},
{"r":"k1","t":1983,"v":6000},{"r":"k1","t":1983.5,"v":800},{"r":"k1","t":1984,"v":5200},{"r":"k1","t":1984.5,"v":600},{"r":"k1","t":1985,"v":4500},{"r":"k1","t":1985.5,"v":400},{"r":"k1","t":1986,"v":3000},{"r":"k1","t":1986.5,"v":350},{"r":"k1","t":1987,"v":1500},{"r":"k1","t":1987.5,"v":650},{"r":"k1","t":1987.8,"v":0},{"r":"k1","t":2020.25,"v":0},
{"r":"k2","t":1983,"v":6200},{"r":"k2","t":1983.5,"v":900},{"r":"k2","t":1984,"v":5600},{"r":"k2","t":1984.5,"v":700},{"r":"k2","t":1985,"v":5000},{"r":"k2","t":1985.5,"v":500},{"r":"k2","t":1986,"v":4200},{"r":"k2","t":1986.5,"v":450},{"r":"k2","t":1987,"v":3500},{"r":"k2","t":1987.5,"v":500},{"r":"k2","t":1988,"v":2000},{"r":"k2","t":1988.5,"v":450},{"r":"k2","t":1989,"v":800},{"r":"k2","t":1989.5,"v":0},{"r":"k2","t":2020.25,"v":0},
{"r":"k3","t":1984,"v":5800},{"r":"k3","t":1984.5,"v":800},{"r":"k3","t":1985,"v":5400},{"r":"k3","t":1985.5,"v":600},{"r":"k3","t":1986,"v":5000},{"r":"k3","t":1986.5,"v":550},{"r":"k3","t":1987,"v":4500},{"r":"k3","t":1987.5,"v":600},{"r":"k3","t":1988,"v":4200},{"r":"k3","t":1988.5,"v":700},{"r":"k3","t":1989,"v":3600},{"r":"k3","t":1989.5,"v":700},{"r":"k3","t":1990,"v":2500},{"r":"k3","t":1990.5,"v":600},{"r":"k3","t":1991,"v":900},{"r":"k3","t":1991.4,"v":0},{"r":"k3","t":2020.25,"v":0}
]
},
"hconcat": [
{
 "title": {"text": "A: Scallops"},
 "width": 423, "height": 317,
 "data": {"name": "sc"},
 "mark": {"type": "line", "stroke": "#7f7f7f", "strokeWidth": 1, "opacity": 0.45},
 "encoding": {
  "x": {"field": "t", "type": "quantitative", "scale": {"domain": [1967.99, 2022.26], "nice": false, "zero": false}, "axis": {"values": [1970,1980,1990,2000,2010,2020], "format": "d", "title": null}},
  "y": {"field": "v", "type": "quantitative", "scale": {"domain": [-134, 3230], "nice": false, "zero": false}, "axis": {"values": [0,500,1000,1500,2000,2500,3000], "format": "d", "title": "Biomass (tonnes)"}},
  "detail": {"field": "r", "type": "nominal"}
 }
},
{
 "title": {"text": "B: Flatfish"},
 "width": 423, "height": 317,
 "data": {"name": "ff"},
 "mark": {"type": "line", "stroke": "#7f7f7f", "strokeWidth": 1, "opacity": 0.45},
 "encoding": {
  "x": {"field": "t", "type": "quantitative", "scale": {"domain": [1967.99, 2022.26], "nice": false, "zero": false}, "axis": {"values": [1970,1980,1990,2000,2010,2020], "format": "d", "title": null}},
  "y": {"field": "v", "type": "quantitative", "scale": {"domain": [-698, 17257], "nice": false, "zero": false}, "axis": {"values": [0,5000,10000,15000], "format": "d", "title": "Biomass (tonnes)"}},
  "detail": {"field": "r", "type": "nominal"}
 }
}
]
}
